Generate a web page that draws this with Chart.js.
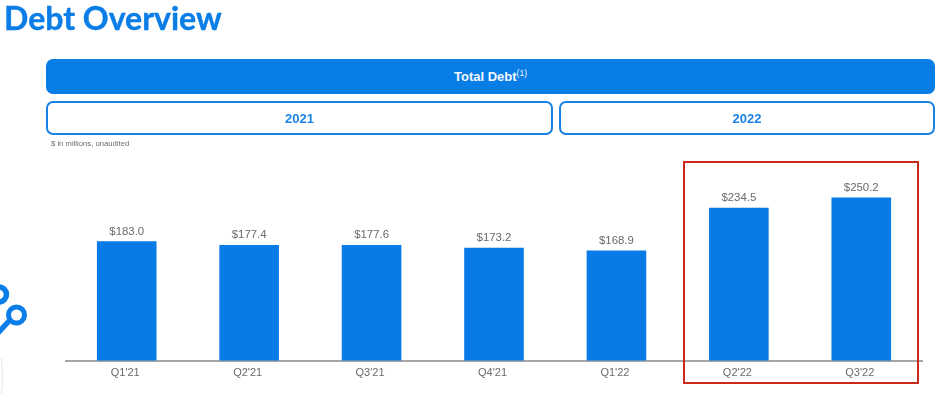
<!DOCTYPE html>
<html>
  <head>
    <meta charset="utf-8">
    <style>
      html, body { margin: 0; padding: 0; background: #fff; overflow: hidden; }
      body { width: 945px; height: 394px; position: relative; font-family: "Liberation Sans", Arial, sans-serif; }
      #wrap { position: absolute; left: 0; top: 0; width: 945px; height: 394px; }
      .title { position: absolute; left: 4px; top: -3px; font: bold 32px Lato, sans-serif; color: #0a7de6; line-height: 42px; -webkit-text-stroke: 0.4px #0a7de6; }
      .band { position: absolute; box-sizing: border-box; border-radius: 7px; text-align: center; font-weight: bold; font-size: 13px; }
      .total { left: 46px; top: 59px; width: 889px; height: 35px; line-height: 35px; background: #087de6; color: #f4f9fe; }
      .total sup { font-size: 8.5px; font-weight: normal; line-height: 0; }
      .year { top: 101px; height: 34px; line-height: 31px; border: 2px solid #1a82e6; color: #1a82e6; }
      .note { position: absolute; left: 51px; top: 139px; font-size: 7.7px; color: #6b6b6b; }
      .red { position: absolute; box-sizing: border-box; left: 683px; top: 161px; width: 236px; height: 223px; border: 2px solid #c9291c; }
      svg { position: absolute; left: 0; top: 270px; }
    </style>
  </head>
  <body>
    <div id="wrap"><canvas id="myChart" width="945" height="394"></canvas></div>
    <div class="title">Debt Overview</div>
    <div class="band total">Total Debt<sup>(1)</sup></div>
    <div class="band year" style="left:46px;width:507px">2021</div>
    <div class="band year" style="left:559px;width:376px">2022</div>
    <div class="note">$ in millions, unaudited</div>
    <div class="red"></div>
    <svg width="40" height="124">
      <path d="M-3 64 L9 51" stroke="#0a7de6" stroke-width="5.5" fill="none"/>
      <circle cx="16.5" cy="45" r="8" fill="#fff" stroke="#0a7de6" stroke-width="5"/>
      <path d="M-1 17 A7.5 7.5 0 0 1 -1 32" fill="none" stroke="#0a7de6" stroke-width="5.5"/>
      <path d="M1 88 Q4 110 1 124" fill="none" stroke="#e8e8e8" stroke-width="1"/>
    </svg>
    <script src="https://cdn.jsdelivr.net/npm/chart.js@4/dist/chart.umd.min.js"></script>
    <script>
      var categories = ["Q1'21", "Q2'21", "Q3'21", "Q4'21", "Q1'22", "Q2'22", "Q3'22"];
      var totalDebt = [183.0, 177.4, 177.6, 173.2, 168.9, 234.5, 250.2];

      // draws the $ values on top of the bars
      var barLabels = {
        id: "barLabels",
        afterDatasetsDraw: function (chart) {
          var ctx = chart.ctx;
          ctx.save();
          ctx.fillStyle = "#6a6a6a";
          ctx.font = "11.4px 'Liberation Sans'";
          ctx.textAlign = "center";
          ctx.textBaseline = "bottom";
          chart.getDatasetMeta(0).data.forEach(function (bar, i) {
            ctx.fillText("$" + totalDebt[i].toFixed(1), bar.x, bar.y - 4);
          });
          ctx.restore();
        }
      };

      var ctx = document.getElementById("myChart").getContext("2d");
      var myChart = new Chart(ctx, {
        type: "bar",
        data: {
          labels: categories,
          datasets: [
            {
              label: "Total Debt",
              data: totalDebt,
              backgroundColor: "#087be6",
              categoryPercentage: 1,
              barPercentage: 0.487
            }
          ]
        },
        options: {
          responsive: false,
          animation: false,
          layout: { padding: { left: 65.5, right: 22.5, top: 165, bottom: 8 } },
          plugins: { legend: { display: false }, tooltip: { enabled: false } },
          scales: {
            y: { display: false, min: 0, max: 300 },
            x: {
              grid: { display: false, drawTicks: false },
              border: { color: "#a6a6a6", width: 2 },
              ticks: { color: "#6a6a6a", font: { family: "Liberation Sans", size: 11 }, padding: 6, maxRotation: 0, labelOffset: -1.5 }
            }
          }
        },
        plugins: [barLabels]
      });
    </script>
  </body>
</html>
